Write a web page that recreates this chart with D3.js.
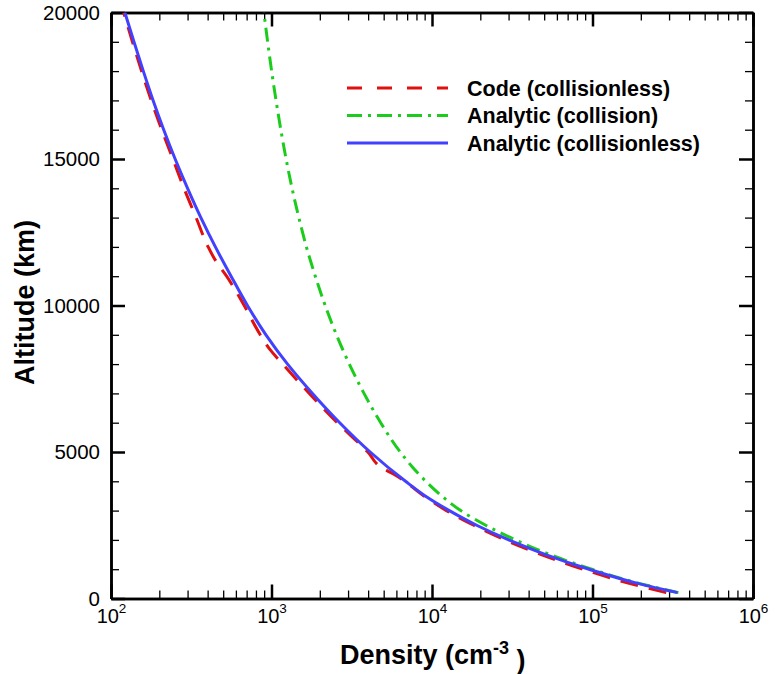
<!DOCTYPE html>
<html>
<head>
<meta charset="utf-8">
<script src="https://cdn.jsdelivr.net/npm/d3@7"></script>
<style>
  html, body { margin: 0; padding: 0; background: #fff; overflow: hidden; }
  svg { display: block; }
  text { font-family: "Liberation Sans", Arial, Helvetica, sans-serif; fill: #000; }
</style>
</head>
<body>
<div class="chart"></div>
<script>
// Data: altitude (km) vs density (cm^-3)
const codeAlt = [200, 500, 1000, 1500, 2000, 2500, 3000, 3500, 4000, 4250, 4450, 5000, 6000, 7000, 8000, 8500, 9000, 10000, 11000, 11500, 12000, 13000, 14000, 15000, 16000, 17000, 18000, 19000, 20000]
const codeDensity = [288000, 174000, 87100, 47900, 28500, 18200, 12300, 8910, 6760, 5750, 4900, 3980, 2570, 1720, 1175, 977, 851, 676, 525, 452, 403, 339, 285, 243, 207, 178, 155, 136, 120]

const collAlt = [200, 500, 1000, 1500, 2000, 2500, 3000, 3500, 4000, 4500, 5000, 6000, 7000, 8000, 9000, 10000, 11000, 12000, 13000, 14000, 15000, 16000, 17000, 18000, 19000, 20000]
const collDensity = [343000, 201000, 98900, 54300, 33100, 21600, 15100, 11500, 9150, 7520, 6340, 4790, 3770, 3055, 2540, 2160, 1875, 1650, 1480, 1343, 1233, 1143, 1067, 1002, 946, 897]

const freeAlt = [200, 500, 1000, 1500, 2000, 2500, 3000, 3500, 4000, 5000, 6000, 7000, 8000, 9000, 10000, 11000, 12000, 13000, 14000, 15000, 16000, 17000, 18000, 19000, 20000]
const freeDensity = [338800, 196300, 95100, 51050, 30060, 18970, 12820, 9080, 6840, 4120, 2660, 1800, 1259, 923, 708, 560, 447, 363, 300, 251, 213, 183, 159, 139, 122]

const seriesNames = ["Code (collisionless)", "Analytic (collision)", "Analytic (collisionless)"]
const xTickValues = [1e2, 1e3, 1e4, 1e5, 1e6]
const yTickValues = [0, 5000, 10000, 15000, 20000]

// Size of plot
const w = 775
const h = 674
const margin = {top: 12.5, right: 22, bottom: 75.5, left: 111}
const innerWidth = w - margin.left - margin.right
const innerHeight = h - margin.top - margin.bottom

const svg = d3.select(".chart").append("svg")
  .attr("width", w)
  .attr("height", h)

const g = svg.append("g").attr("transform", `translate(${margin.left},${margin.top})`)

const xScale = d3.scaleLog().domain([1e2, 1e6]).range([0, innerWidth])
const yScale = d3.scaleLinear().domain([0, 20000]).range([innerHeight, 0])

// minor ticks
const xMinor = []
for (let e = 2; e < 6; e++) for (let m = 2; m <= 9; m++) xMinor.push(m * Math.pow(10, e))
const yMinor = d3.range(0, 20001, 1000).filter(v => v % 5000 !== 0)

function styleAxis(sel, width) {
  sel.select(".domain").attr("stroke", "#000").attr("stroke-width", 2.5)
  sel.selectAll(".tick line").attr("stroke", "#000").attr("stroke-width", width)
}

// tick-only axis (no labels)
function tickAxis(axis, transform, values, size, width) {
  g.append("g").attr("transform", transform)
    .call(axis.tickValues(values).tickSizeInner(-size).tickSizeOuter(0).tickFormat(""))
    .call(s => styleAxis(s, width))
    .call(s => s.selectAll(".tick text").remove())
}

// bottom
const bottomAxis = g.append("g")
  .attr("transform", `translate(0,${innerHeight})`)
  .call(d3.axisBottom(xScale).tickValues(xTickValues).tickSizeInner(-14).tickSizeOuter(0).tickPadding(10))
bottomAxis.call(s => styleAxis(s, 2.5))
bottomAxis.selectAll(".tick text").each(function(d) {
  const t = d3.select(this)
  t.text(null).attr("font-size", 20).attr("text-anchor", "middle")
  t.append("tspan").text("10")
  t.append("tspan").text(Math.round(Math.log10(d))).attr("font-size", 13.5).attr("dy", "-0.75em")
})
tickAxis(d3.axisBottom(xScale), `translate(0,${innerHeight})`, xMinor, 8, 1.3)

// top
tickAxis(d3.axisTop(xScale), "translate(0,0)", xTickValues, 14, 2.5)
tickAxis(d3.axisTop(xScale), "translate(0,0)", xMinor, 8, 1.3)

// left
const leftAxis = g.append("g")
  .call(d3.axisLeft(yScale).tickValues(yTickValues).tickSizeInner(-14).tickSizeOuter(0).tickPadding(11).tickFormat(d3.format("d")))
leftAxis.call(s => styleAxis(s, 2.5))
leftAxis.selectAll(".tick text").attr("font-size", 20.5)
tickAxis(d3.axisLeft(yScale), "translate(0,0)", yMinor, 8, 1.3)

// right
tickAxis(d3.axisRight(yScale), `translate(${innerWidth},0)`, yTickValues, 14, 2.5)
tickAxis(d3.axisRight(yScale), `translate(${innerWidth},0)`, yMinor, 8, 1.3)

// curves
const series = [
  {name: seriesNames[0], alt: codeAlt, dens: codeDensity, color: "#e01010", dash: "18,11", legendDash: "15,15"},
  {name: seriesNames[1], alt: collAlt, dens: collDensity, color: "#1ccc1c", dash: "14,6,3,6", legendDash: "15,6,3,6"},
  {name: seriesNames[2], alt: freeAlt, dens: freeDensity, color: "#4141ff", dash: null, legendDash: null}
]

const line = d3.line()
  .x(d => xScale(d[1]))
  .y(d => yScale(d[0]))
  .curve(d3.curveMonotoneY)

g.append("clipPath").attr("id", "clip")
  .append("rect").attr("width", innerWidth).attr("height", innerHeight)

series.forEach(s => {
  g.append("path")
    .attr("clip-path", "url(#clip)")
    .attr("d", line(s.alt.map((a, i) => [a, s.dens[i]])))
    .attr("fill", "none")
    .attr("stroke", s.color)
    .attr("stroke-width", 3)
    .attr("stroke-dasharray", s.dash)
})

// legend
const legend = svg.append("g").attr("transform", "translate(347,88)")
series.forEach((s, i) => {
  const row = legend.append("g").attr("transform", `translate(0,${i * 27.5})`)
  row.append("line")
    .attr("x1", 0).attr("x2", 101)
    .attr("stroke", s.color).attr("stroke-width", 3)
    .attr("stroke-dasharray", s.legendDash)
  row.append("text")
    .attr("x", 120).attr("y", 7.5)
    .attr("font-size", 21.5).attr("font-weight", "bold")
    .text(s.name)
})

// axis titles
const xTitle = svg.append("text")
  .attr("x", 340).attr("y", 664)
  .attr("font-size", 27).attr("font-weight", "bold")
xTitle.append("tspan").text("Density (cm")
xTitle.append("tspan").text("-3").attr("font-size", 18).attr("dy", "-0.55em")
xTitle.append("tspan").text(" )").attr("dy", "0.55em")

svg.append("text")
  .attr("transform", `translate(34,${margin.top + innerHeight / 2 - 3}) rotate(-90)`)
  .attr("text-anchor", "middle")
  .attr("font-size", 27).attr("font-weight", "bold")
  .text("Altitude (km)")
</script>
</body>
</html>
